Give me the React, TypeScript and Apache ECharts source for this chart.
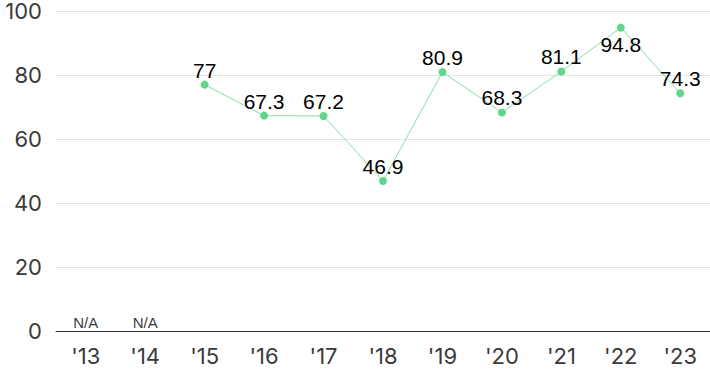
import React, { useEffect, useRef } from "react";
import * as echarts from "echarts";

const categories = ["'13", "'14", "'15", "'16", "'17", "'18", "'19", "'20", "'21", "'22", "'23"];
const values: (number | null)[] = [null, null, 77, 67.3, 67.2, 46.9, 80.9, 68.3, 81.1, 94.8, 74.3];
const naValues: (number | null)[] = [0, 0, null, null, null, null, null, null, null, null, null];
const yTicks = [0, 20, 40, 60, 80, 100];

export default function App() {
  const ref = useRef<HTMLDivElement>(null);
  useEffect(() => {
    if (!ref.current) return;
    document.body.style.margin = "0";
    const chart = echarts.init(ref.current, undefined, { renderer: "svg" });
    const axisFont = "Inter, Roboto, sans-serif";
    const labelFont = "'Liberation Sans', Arial, sans-serif";
    chart.setOption({
      animation: false,
      grid: { left: 56, right: 0, top: 8, bottom: 40, containLabel: false },
      xAxis: {
        type: "category",
        data: categories,
        boundaryGap: true,
        axisLine: { show: true, lineStyle: { color: "#333", width: 1 } },
        axisTick: { show: false },
        axisLabel: { color: "#3a3a3a", fontSize: 22, fontFamily: axisFont, margin: 14 },
      },
      yAxis: {
        type: "value",
        min: yTicks[0],
        max: yTicks[yTicks.length - 1],
        interval: 20,
        axisLine: { show: false },
        axisTick: { show: false },
        splitLine: { lineStyle: { color: "#e3e3e3", width: 1 } },
        axisLabel: { color: "#3a3a3a", fontSize: 22, fontFamily: axisFont, margin: 14 },
      },
      series: [
        {
          type: "line",
          data: values.map((v, i) =>
            i === 9
              ? { value: v, label: { position: "bottom", distance: 2 } }
              : v
          ),
          connectNulls: false,
          symbol: "circle",
          symbolSize: 8,
          lineStyle: { color: "#86dfa5", width: 1 },
          itemStyle: { color: "#5fd68b" },
          label: {
            show: true,
            position: "top",
            distance: 0,
            color: "#000",
            fontSize: 21,
            fontFamily: labelFont,
          },
        },
        {
          type: "scatter",
          data: naValues,
          symbolSize: 0,
          itemStyle: { color: "transparent" },
          label: {
            show: true,
            position: "top",
            distance: 1,
            formatter: "N/A",
            color: "#000",
            fontSize: 15,
            fontFamily: labelFont,
          },
        },
      ],
    });
    return () => chart.dispose();
  }, []);
  return <div ref={ref} style={{ width: 710, height: 371 }} />;
}
